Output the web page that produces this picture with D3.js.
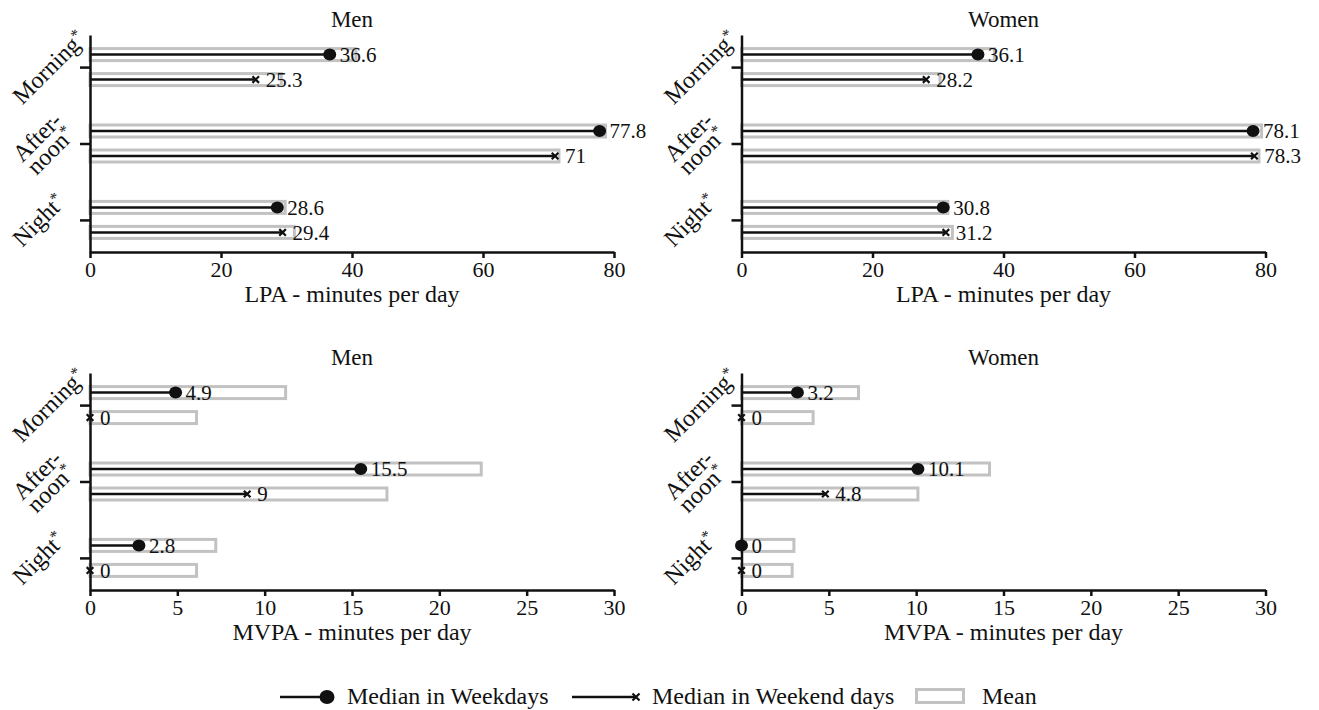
<!DOCTYPE html>
<html>
<head>
<meta charset="utf-8">
<script src="https://cdn.jsdelivr.net/npm/d3@7"></script>
<style>
  body { margin: 0; background: #fff; }
  svg, svg text { font-family: "Liberation Serif", "Tinos", "DejaVu Serif", serif; fill: #111; }
  .axis path, .axis line { stroke: #111; stroke-width: 2.5px; }
  .axis text { font-size: 22px; font-family: "Liberation Serif", "Tinos", "DejaVu Serif", serif; }
</style>
</head>
<body>
<div id="chart"></div>
<script>
// categories (y axis) and panel names
var periods = ["Morning", "Afternoon", "Night"];
var periodLabels = [["Morning"], ["After-", "noon"], ["Night"]];

// LPA, minutes per day
var lpaMenWeekday  = [36.6, 77.8, 28.6];
var lpaMenWeekend  = [25.3, 71, 29.4];
var lpaMenMean     = [40.6, 78.7, 29.8];
var lpaMenMeanWe   = [29.2, 71.6, 31.2];

var lpaWomenWeekday = [36.1, 78.1, 30.8];
var lpaWomenWeekend = [28.2, 78.3, 31.2];
var lpaWomenMean    = [38.6, 79.4, 31.5];
var lpaWomenMeanWe  = [30.3, 79.0, 32.2];

// MVPA, minutes per day
var mvpaMenWeekday = [4.9, 15.5, 2.8];
var mvpaMenWeekend = [0, 9, 0];
var mvpaMenMean    = [11.2, 22.4, 7.2];
var mvpaMenMeanWe  = [6.1, 17.0, 6.1];

var mvpaWomenWeekday = [3.2, 10.1, 0];
var mvpaWomenWeekend = [0, 4.8, 0];
var mvpaWomenMean    = [6.7, 14.2, 3.0];
var mvpaWomenMeanWe  = [4.1, 10.1, 2.9];

var lpaTicks = [0, 20, 40, 60, 80];
var mvpaTicks = [0, 5, 10, 15, 20, 25, 30];

var width = 1319, height = 710;
var grey = "#c2c2c2";
var serif = "'Liberation Serif', 'Tinos', 'DejaVu Serif', serif";

var svg = d3.select("#chart").append("svg")
    .attr("width", width)
    .attr("height", height)
    .attr("font-family", serif);

var panels = [
  {title: "Men",   x0: 90,    top: 35,  max: 80, ticks: lpaTicks,  label: "LPA - minutes per day",
   wd: lpaMenWeekday, we: lpaMenWeekend, mwd: lpaMenMean, mwe: lpaMenMeanWe},
  {title: "Women", x0: 741.5, top: 35,  max: 80, ticks: lpaTicks,  label: "LPA - minutes per day",
   wd: lpaWomenWeekday, we: lpaWomenWeekend, mwd: lpaWomenMean, mwe: lpaWomenMeanWe},
  {title: "Men",   x0: 90,    top: 373, max: 30, ticks: mvpaTicks, label: "MVPA - minutes per day",
   wd: mvpaMenWeekday, we: mvpaMenWeekend, mwd: mvpaMenMean, mwe: mvpaMenMeanWe},
  {title: "Women", x0: 741.5, top: 373, max: 30, ticks: mvpaTicks, label: "MVPA - minutes per day",
   wd: mvpaWomenWeekday, we: mvpaWomenWeekend, mwd: mvpaWomenMean, mwe: mvpaWomenMeanWe}
];

var pw = 524, ph = 217, off = 12.5;

// cross marker
function cross(g, x, y, s) {
  g.append("path")
    .attr("d", "M" + (x - s) + "," + (y - s) + "L" + (x + s) + "," + (y + s) +
               "M" + (x - s) + "," + (y + s) + "L" + (x + s) + "," + (y - s))
    .attr("stroke", "#111")
    .attr("stroke-width", 2.2);
}

panels.forEach(function(p) {
  var x = d3.scaleLinear().domain([0, p.max]).range([p.x0, p.x0 + pw]);
  var y = d3.scalePoint().domain(periods).range([p.top, p.top + ph]).padding(0.42);
  var g = svg.append("g");

  // mean bars (outlined)
  var rows = [];
  periods.forEach(function(c, i) {
    rows.push({y: y(c) - off, med: p.wd[i], mean: p.mwd[i], mark: "dot"});
    rows.push({y: y(c) + off, med: p.we[i], mean: p.mwe[i], mark: "x"});
  });

  g.selectAll("rect.mean")
    .data(rows)
    .enter().append("rect")
      .attr("class", "mean")
      .attr("x", x(0))
      .attr("y", function(d) { return d.y - 6; })
      .attr("width", function(d) { return x(d.mean) - x(0); })
      .attr("height", 12)
      .attr("fill", "none")
      .attr("stroke", grey)
      .attr("stroke-width", 3);

  g.selectAll("line.med")
    .data(rows)
    .enter().append("line")
      .attr("class", "med")
      .attr("x1", x(0))
      .attr("x2", function(d) { return x(d.med); })
      .attr("y1", function(d) { return d.y; })
      .attr("y2", function(d) { return d.y; })
      .attr("stroke", "#111")
      .attr("stroke-width", 2.5);

  rows.forEach(function(d) {
    if (d.mark == "dot") {
      g.append("ellipse")
        .attr("cx", x(d.med)).attr("cy", d.y)
        .attr("rx", 6.5).attr("ry", 6)
        .attr("fill", "#111");
    } else {
      cross(g, x(d.med), d.y, 3.3);
    }
    g.append("text")
      .attr("x", x(d.med) + 10)
      .attr("y", d.y)
      .attr("dy", "0.35em")
      .style("font-size", "21px")
      .text(d.med);
  });

  // axes
  var xAxis = d3.axisBottom(x)
    .tickValues(p.ticks)
    .tickSize(6)
    .tickSizeOuter(0)
    .tickPadding(3)
    .tickFormat(d3.format("d"));
  svg.append("g")
    .attr("class", "axis")
    .attr("transform", "translate(0," + (p.top + ph) + ")")
    .call(xAxis)
    .attr("font-family", serif);

  var yAxis = d3.axisLeft(y).tickSize(10).tickSizeOuter(0).tickFormat("");
  svg.append("g")
    .attr("class", "axis")
    .attr("transform", "translate(" + p.x0 + ",0)")
    .call(yAxis);

  // rotated category labels
  periods.forEach(function(c, i) {
    var lines = periodLabels[i];
    var t = svg.append("text")
      .style("font-size", "24px")
      .attr("text-anchor", "middle");
    lines.forEach(function(s, j) {
      t.append("tspan")
        .attr("x", 0)
        .attr("dy", j == 0 ? (lines.length > 1 ? "-0.05em" : "0.35em") : "0.8em")
        .text(s);
      if (j == lines.length - 1) {
        t.append("tspan").attr("dy", "-0.45em").style("font-size", "16px").text("*");
        t.append("tspan").attr("dy", "0.45em").text("");
      }
    });
    var bb = t.node().getBBox();
    var w = (bb.width + bb.height) * Math.SQRT1_2;
    var cx = p.x0 - 83 + w / 2;
    t.attr("transform", "translate(" + cx + "," + y(c) + ") rotate(-45)");
  });

  // titles
  svg.append("text")
    .attr("x", p.x0 + pw / 2)
    .attr("y", p.top - 8)
    .attr("text-anchor", "middle")
    .style("font-size", "23px")
    .text(p.title);

  svg.append("text")
    .attr("x", p.x0 + pw / 2)
    .attr("y", p.top + ph + 50)
    .attr("text-anchor", "middle")
    .style("font-size", "24px")
    .text(p.label);
});

// legend
var lg = svg.append("g").attr("transform", "translate(0,697)");
lg.append("line").attr("x1", 280).attr("x2", 326).attr("y1", 0).attr("y2", 0)
  .attr("stroke", "#111").attr("stroke-width", 2.5);
lg.append("ellipse").attr("cx", 327).attr("cy", 0).attr("rx", 7.5).attr("ry", 7).attr("fill", "#111");
lg.append("text").attr("x", 347).attr("y", 0).attr("dy", "0.3em").style("font-size", "24px").text("Median in Weekdays");
lg.append("line").attr("x1", 572).attr("x2", 636).attr("y1", 0).attr("y2", 0)
  .attr("stroke", "#111").attr("stroke-width", 2.5);
cross(lg, 636, 0, 3.5);
lg.append("text").attr("x", 652).attr("y", 0).attr("dy", "0.3em").style("font-size", "24px").text("Median in Weekend days");
lg.append("rect").attr("x", 916.5).attr("y", -7.5).attr("width", 47).attr("height", 13)
  .attr("fill", "none").attr("stroke", grey).attr("stroke-width", 3);
lg.append("text").attr("x", 982).attr("y", 0).attr("dy", "0.3em").style("font-size", "24px").text("Mean");
</script>
</body>
</html>
